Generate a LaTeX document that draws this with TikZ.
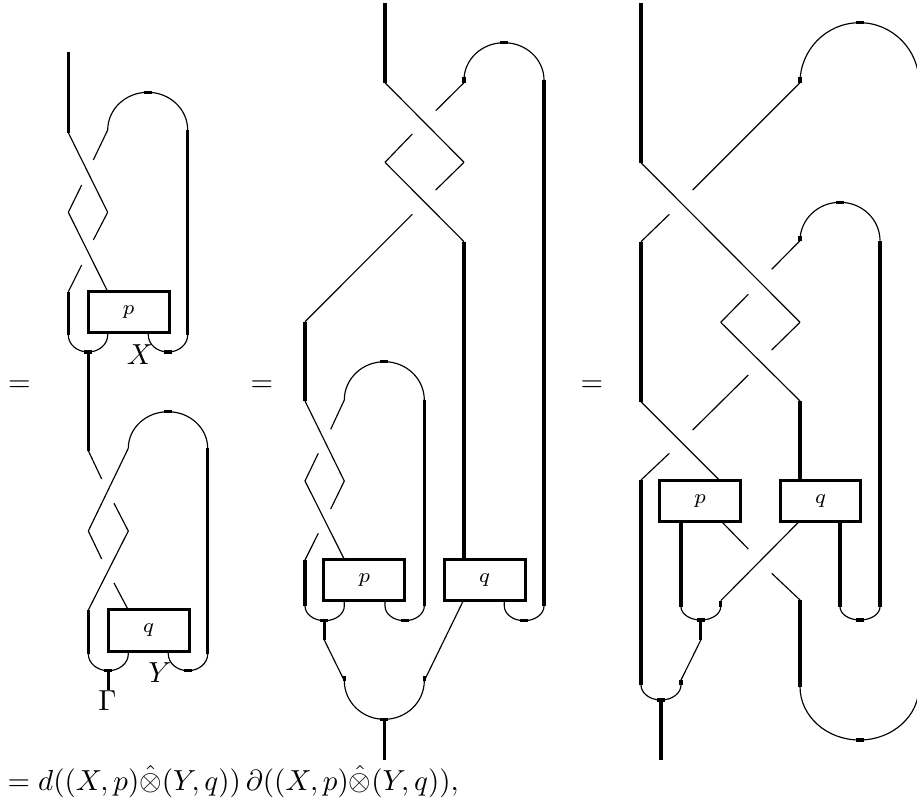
\documentclass[tikz,border=0pt]{standalone}
\usetikzlibrary{calc}
\begin{document}
\begin{tikzpicture}[x=0.3448pt,y=0.3448pt,
  thn/.style={line width=0.4pt},
  thk/.style={line width=1.05pt},
  bx/.style={draw,line width=1.05pt,minimum width=27.9pt,minimum height=14.3pt,inner sep=0pt,fill=white},
  lab/.style={anchor=base,inner sep=0pt}]
\useasboundingbox (0,0) rectangle (917,-808);
\clip (0,0) rectangle (917,-808);
% ================= PANEL 1 (top) =================
\draw[thk] (68.3,-51.7)--(68.3,-132.7);
\draw[thn] (68.3,-132.7)--(107.7,-212.3);
\draw[thn] (107.7,-130)--(93.3,-160) (81.7,-185)--(68.3,-212.3);
\draw[thn] (68.3,-212.3)--(107.7,-291.5);
\draw[thn] (107.7,-212.3)--(93.3,-240) (81.7,-265)--(68.3,-291.7);
\draw[thk] (68.3,-291.7)--(68.3,-335);
\draw[thn] (107.7,-130) arc[start angle=180,end angle=0,x radius=40,y radius=37.7];
\draw[thk] (143.7,-92.3)--(151.7,-92.3);
\draw[thk] (187.7,-130)--(187.7,-335);
\draw[thn] (68.3,-335) arc[start angle=180,end angle=360,x radius=19.7,y radius=17] -- (107.7,-332.7);
\draw[thk] (84.3,-352)--(92.3,-352);
\draw[thk] (88.3,-352)--(88.3,-450.7);
\draw[thn] (148.3,-332.7)--(148.3,-335) arc[start angle=180,end angle=360,x radius=19.7,y radius=17];
\draw[thk] (164,-352)--(172,-352);
\node[bx] (p1) at (128.65,-311.85) {$\scriptstyle p$};
\node[lab] (X1) at (140,-364) {$X$};
% ================= PANEL 1 (bottom) =================
\draw[thn] (128.3,-448.3) arc[start angle=180,end angle=0,x radius=39.7,y radius=36.6];
\draw[thk] (164,-411.7)--(172,-411.7);
\draw[thk] (207.7,-448.3)--(207.7,-654);
\draw[thn] (128.3,-448.3)--(88.3,-531);
\draw[thn] (88.3,-450.7)--(101.7,-479) (114,-503.3)--(128.3,-531);
\draw[thn] (128.3,-531)--(88.3,-610);
\draw[thn] (88.3,-531)--(101.7,-559) (114,-583)--(128.3,-610);
\draw[thk] (88.3,-610)--(88.3,-654);
\draw[thn] (88.3,-654) arc[start angle=180,end angle=360,x radius=20,y radius=16.7] -- (128.3,-650.7);
\draw[thk] (104.3,-670.7)--(112.3,-670.7);
\draw[thk] (108.3,-670.7)--(108.3,-690);
\draw[thn] (168.3,-650.7)--(168.3,-654) arc[start angle=180,end angle=360,x radius=19.7,y radius=16.7];
\draw[thk] (184,-670.7)--(192,-670.7);
\node[bx] (q1) at (148.65,-630.35) {$\scriptstyle q$};
\node[lab] (G1) at (107.5,-710) {$\Gamma$};
\node[lab] (Y1) at (160,-682) {$Y$};
% ================= PANEL 2 =================
\draw[thk] (385,-3)--(385,-82.7);
\draw[thn] (464,-80) arc[start angle=180,end angle=0,x radius=40,y radius=37.3];
\draw[thk] (500,-42.7)--(508,-42.7);
\draw[thk] (464,-77)--(464,-82.7);
\draw[thk] (544,-80)--(544,-606);
\draw[thn] (385,-82.7)--(464,-162.3);
\draw[thn] (464,-82.7)--(435.7,-110.7) (412.3,-134)--(385,-162.3);
\draw[thn] (385,-162.3)--(464,-241.7);
\draw[thn] (464,-162.3)--(435.7,-190) (412.3,-214.3)--(305,-321.7);
\draw[thk] (464,-241.7)--(464,-559.3);
\draw[thk] (305,-321.7)--(305,-401);
\draw[thn] (344.3,-400) arc[start angle=180,end angle=0,x radius=40,y radius=38.3];
\draw[thk] (380.3,-361.7)--(388.3,-361.7);
\draw[thk] (424.3,-400)--(424.3,-606);
\draw[thn] (305,-401)--(344.3,-481);
\draw[thn] (344.3,-400)--(330.7,-429.3) (318.3,-453.3)--(305,-481);
\draw[thn] (305,-481)--(344.3,-559.3);
\draw[thn] (344.3,-481)--(330.7,-509) (318.3,-533.3)--(305,-560);
\draw[thk] (305,-560)--(305,-606);
\draw[thn] (305,-606) arc[start angle=180,end angle=360,x radius=19.65,y radius=14.7] -- (344.3,-600.7);
\draw[thk] (320.3,-620.7)--(328.3,-620.7);
\draw[thk] (324.3,-620.7)--(324.3,-640);
\draw[thn] (324.3,-640)--(344.3,-680.7);
\draw[thn] (385,-600.7)--(385,-606) arc[start angle=180,end angle=360,x radius=19.65,y radius=14.7];
\draw[thk] (400.6,-620.7)--(408.6,-620.7);
\draw[thn] (463.3,-600.7)--(424.3,-680.7);
\draw[thn] (344.3,-680.7) arc[start angle=180,end angle=360,x radius=40,y radius=38.6];
\draw[thk] (380.3,-719.3)--(388.3,-719.3);
\draw[thk] (344.3,-676)--(344.3,-681) (424.3,-676)--(424.3,-681);
\draw[thk] (384.3,-719.3)--(384.3,-760);
\draw[thn] (504.3,-600.7)--(504.3,-606) arc[start angle=180,end angle=360,x radius=19.85,y radius=14.7];
\draw[thk] (520,-620.7)--(528,-620.7);
\node[bx] (p2) at (364.3,-580) {$\scriptstyle p$};
\node[bx] (q2) at (484.65,-580) {$\scriptstyle q$};
% ================= PANEL 3 =================
\draw[thk] (641,-3)--(641,-162.7);
\draw[thn] (800,-82.7) arc[start angle=180,end angle=0,x radius=59.5,y radius=60];
\draw[thk] (855.5,-22.7)--(863.5,-22.7);
\draw[thk] (800,-77)--(800,-82.7);
\draw[thk] (919,-82.7)--(919,-686.7);
\draw[thn] (800,-82.7)--(692.7,-190) (669.3,-214.3)--(641,-241.7);
\draw[thn] (641,-162.7)--(800,-322.3);
\draw[thk] (641,-241.7)--(641,-401.7);
\draw[thn] (800,-240.7) arc[start angle=180,end angle=0,x radius=40,y radius=38.4];
\draw[thk] (836,-202.3)--(844,-202.3);
\draw[thk] (800,-236)--(800,-240.7);
\draw[thk] (880,-240.7)--(880,-606.7);
\draw[thn] (800,-240.7)--(771.7,-269.3) (748.3,-294.3)--(720.7,-322.3);
\draw[thn] (720.7,-322.3)--(800,-401);
\draw[thn] (800,-322.3)--(771.7,-350) (748.3,-375)--(692.7,-430) (669.3,-453.3)--(641,-480);
\draw[thk] (800,-401)--(800,-480.7);
\draw[thn] (641,-401.7)--(720,-480.7);
\draw[thk] (641,-480)--(641,-685);
\draw[thk] (681,-521.7)--(681,-606.7);
\draw[thn] (681,-606.7) arc[start angle=180,end angle=360,x radius=19.85,y radius=13.3];
\draw[thk] (696.85,-620)--(704.85,-620);
\draw[thk] (720.7,-600.7)--(720.7,-606.7);
\draw[thn] (720.7,-600.7)--(799,-521.7);
\draw[thn] (721.7,-521.7)--(748.3,-549) (771.7,-573.3)--(800,-600);
\draw[thk] (800,-600)--(800,-686.7);
\draw[thn] (800,-686.7) arc[start angle=180,end angle=360,x radius=59.5,y radius=53.3];
\draw[thk] (855.5,-740)--(863.5,-740);
\draw[thk] (700.8,-620)--(700.8,-640);
\draw[thn] (700.8,-640)--(681,-680);
\draw[thn] (641,-685) arc[start angle=180,end angle=360,x radius=20,y radius=15];
\draw[thk] (681,-680)--(681,-685);
\draw[thk] (657,-700)--(665,-700);
\draw[thk] (661,-700)--(661,-760);
\draw[thk] (840,-521.7)--(840,-606.7);
\draw[thn] (840,-606.7) arc[start angle=180,end angle=360,x radius=20,y radius=13.3];
\draw[thk] (856,-620)--(864,-620);
\node[bx] (p3) at (700.15,-501.2) {$\scriptstyle p$};
\node[bx] (q3) at (820.5,-501.2) {$\scriptstyle q$};
% ================= equals and formula =================
\node[lab] (e1) at (19.5,-391) {$=$};
\node[lab] (e2) at (262,-391) {$=$};
\node[lab] (e3) at (592,-391) {$=$};
\node[anchor=base west,inner sep=0pt] (formula) at (7,-790)
  {$= d((X,p)\hat{\otimes}(Y,q))\,\partial((X,p)\hat{\otimes}(Y,q)),$};
\end{tikzpicture}
\end{document}
